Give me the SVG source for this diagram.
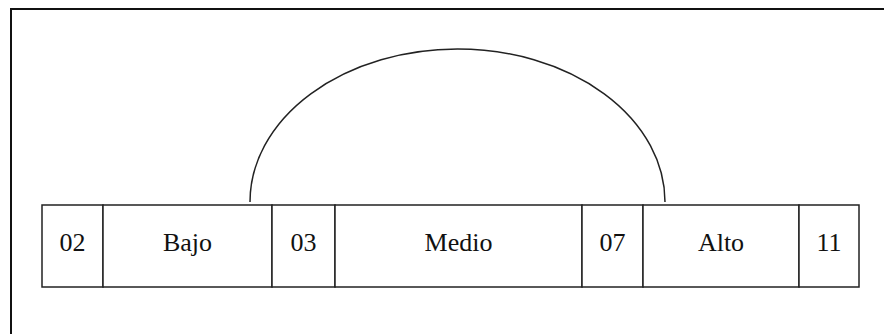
<svg xmlns="http://www.w3.org/2000/svg" width="884" height="334" viewBox="0 0 884 334">
<style>
.cell{fill:#fff;stroke:#222;stroke-width:1.5}
.t{font-family:'Liberation Serif','Times New Roman',serif;font-size:26px;fill:#111;text-anchor:middle}
.frame{fill:none;stroke:#111;stroke-width:2}
.arc{fill:none;stroke:#222;stroke-width:1.5}
</style>
<rect width="884" height="334" fill="#fff"/>
<path class="frame" d="M11,334 V9 H884"/>
<g id="connectors">
<path class="arc" d="M250,202 A207.5,153 0 0 1 665,202"/>
</g>
<g id="n02"><rect class="cell" x="42" y="205" width="61" height="82"/><text class="t" x="72.5" y="251">02</text></g>
<g id="nBajo"><rect class="cell" x="103" y="205" width="169" height="82"/><text class="t" x="187.5" y="251">Bajo</text></g>
<g id="n03"><rect class="cell" x="272" y="205" width="63" height="82"/><text class="t" x="303.5" y="251">03</text></g>
<g id="nMedio"><rect class="cell" x="335" y="205" width="247" height="82"/><text class="t" x="458.5" y="251">Medio</text></g>
<g id="n07"><rect class="cell" x="582" y="205" width="61" height="82"/><text class="t" x="612.5" y="251">07</text></g>
<g id="nAlto"><rect class="cell" x="643" y="205" width="156" height="82"/><text class="t" x="721" y="251">Alto</text></g>
<g id="n11"><rect class="cell" x="799" y="205" width="60" height="82"/><text class="t" x="829" y="251">11</text></g>
</svg>
